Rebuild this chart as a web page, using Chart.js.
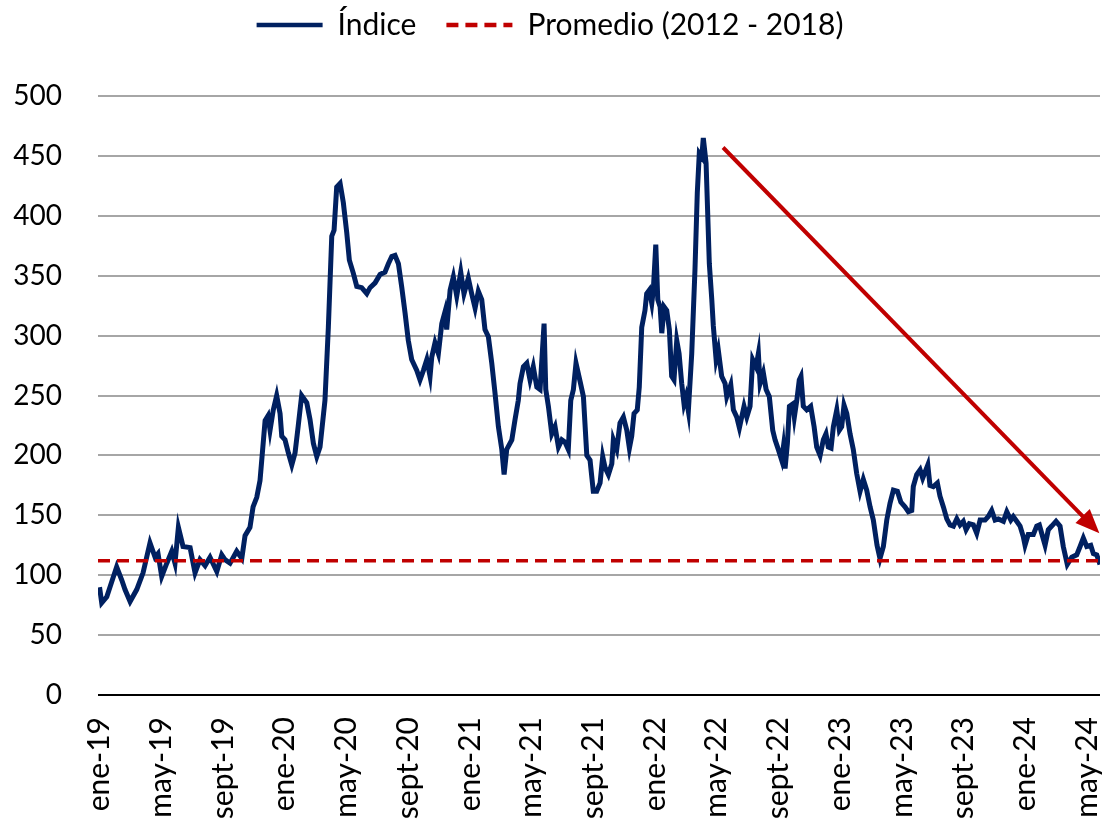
<!DOCTYPE html>
<html lang="es">
<head>
<meta charset="utf-8">
<title>Índice</title>
<script src="https://cdn.jsdelivr.net/npm/chart.js@4.4.1/dist/chart.umd.min.js"></script>
<style>
  body { margin: 0; background: #fff; }
  #wrap { width: 1114px; height: 825px; }
</style>
</head>
<body>
<div id="wrap"><canvas id="lineChart" width="1114" height="825"></canvas></div>
<script>
/* Data: month offset from ene-19 and index value */
const months = [0,0.14,0.47,1.11,1.44,1.65,1.98,2.41,2.82,3.27,3.60,3.79,4.03,4.36,4.68,4.89,5.11,5.41,5.87,6.19,6.51,6.84,7.16,7.60,7.92,8.13,8.46,8.89,9.22,9.43,9.75,9.95,10.19,10.40,10.73,10.92,11.05,11.26,11.48,11.70,11.81,12.02,12.24,12.46,12.67,12.88,13.10,13.43,13.64,13.86,14.08,14.29,14.61,14.83,15.05,15.20,15.37,15.59,15.80,16.02,16.19,16.45,16.67,16.99,17.32,17.53,17.86,18.18,18.50,18.72,18.94,19.15,19.37,19.59,19.80,20.01,20.23,20.56,20.77,20.99,21.21,21.42,21.53,21.74,21.96,22.18,22.39,22.50,22.72,22.93,23.15,23.41,23.62,23.90,24.12,24.34,24.55,24.77,24.98,25.20,25.42,25.63,25.85,26.07,26.22,26.39,26.72,26.93,27.14,27.25,27.47,27.69,27.90,28.11,28.34,28.55,28.81,28.92,29.09,29.31,29.52,29.74,29.96,30.17,30.38,30.54,30.71,30.88,31.14,31.36,31.58,31.79,32.00,32.22,32.44,32.61,32.76,32.98,33.20,33.30,33.52,33.73,33.95,34.17,34.34,34.49,34.64,34.85,34.98,35.14,35.35,35.46,35.63,35.79,35.89,36.05,36.18,36.33,36.44,36.59,36.76,36.93,37.08,37.23,37.41,37.56,37.73,37.88,38.01,38.16,38.38,38.59,38.74,38.87,39.03,39.13,39.31,39.52,39.68,39.78,39.96,40.10,40.32,40.54,40.65,40.91,41.08,41.30,41.47,41.62,41.77,41.95,42.16,42.33,42.55,42.70,42.81,43.02,43.20,43.41,43.63,43.78,43.99,44.21,44.32,44.43,44.58,44.71,44.93,45.03,45.19,45.35,45.46,45.61,45.83,46.09,46.31,46.48,46.70,46.91,47.08,47.23,47.41,47.56,47.78,47.95,48.10,48.25,48.43,48.64,48.85,49.07,49.29,49.50,49.72,49.94,50.15,50.39,50.58,50.80,51.02,51.23,51.45,51.71,51.93,52.20,52.42,52.64,52.74,52.96,53.18,53.35,53.50,53.68,53.82,54.04,54.30,54.47,54.69,54.91,55.12,55.34,55.56,55.77,55.98,56.16,56.37,56.63,56.85,57.07,57.39,57.60,57.82,58.04,58.25,58.58,58.80,59.06,59.22,59.44,59.66,59.87,59.98,60.19,60.52,60.74,60.91,61.06,61.28,61.49,61.71,61.99,62.25,62.46,62.72,63.01,63.33,63.55,63.76,63.98,64.24,64.41,64.63,64.84];

const indexValues = [90,77,82,107,96,88,78,88,102,127,115,118,99,110,120,110,140,124,123,102,113,108,115,103,117,113,110,120,114,133,140,157,165,179,229,233,221,238,250,235,216,213,202,192,202,225,250,244,230,210,199,207,246,307,383,388,424,427,411,386,363,352,341,340,335,340,344,351,353,360,366,367,360,340,319,296,280,271,263,271,280,266,282,294,285,310,320,305,338,349,333,353,335,348,335,323,337,330,305,299,277,252,224,205,184,205,213,230,246,260,274,277,263,274,257,255,310,255,241,218,224,207,213,211,205,246,255,277,262,249,200,196,170,170,177,199,190,184,193,213,205,227,232,221,206,216,235,238,257,307,321,335,338,327,338,376,330,324,302,324,321,305,266,263,296,285,260,243,249,237,285,355,419,452,449,465,444,360,330,308,280,288,266,260,249,259,238,232,223,232,241,232,241,280,274,285,260,269,255,249,221,213,205,196,207,189,210,241,243,232,246,263,266,241,238,241,224,207,200,213,218,207,206,224,238,221,224,242,235,218,205,185,170,180,171,157,146,125,114,124,146,160,171,170,161,157,153,154,174,184,188,181,186,192,175,174,177,166,157,147,142,141,147,142,145,138,143,142,135,146,146,149,154,146,147,145,153,146,149,145,141,132,125,134,134,141,142,135,125,138,141,145,141,124,109,115,117,124,131,124,125,118,117,109];

// Average 2012 - 2018
const promedio = [112];

// Tick positions (months from ene-19) and their labels
const tickMonths = [0, 4, 8, 12, 16, 20, 24, 28, 32, 36, 40, 44, 48, 52, 56, 60, 64];
const tickLabels = ["ene-19", "may-19", "sept-19", "ene-20", "may-20", "sept-20", "ene-21", "may-21", "sept-21", "ene-22", "may-22", "sept-22", "ene-23", "may-23", "sept-23", "ene-24", "may-24"];

// Trend arrow: [month, value]
const arrowStart = [40.41, 457];
const arrowEnd = [64.8, 135];

const xMin = -0.1;
const xMax = 64.84;

const navy = "#002060";
const red = "#c00000";

/*Arrow plugin*/
const arrowPlugin = {
  id: "trendArrow",
  afterDatasetsDraw(chart) {
    const { ctx, scales } = chart;
    const x1 = scales.x.getPixelForValue(arrowStart[0]);
    const y1 = scales.y.getPixelForValue(arrowStart[1]);
    const x2 = scales.x.getPixelForValue(arrowEnd[0]);
    const y2 = scales.y.getPixelForValue(arrowEnd[1]);
    const ang = Math.atan2(y2 - y1, x2 - x1);
    const headLen = 24;
    const headHalf = 10;
    ctx.save();
    ctx.strokeStyle = red;
    ctx.fillStyle = red;
    ctx.lineWidth = 4;
    ctx.beginPath();
    ctx.moveTo(x1, y1);
    ctx.lineTo(x2 - Math.cos(ang) * headLen * 0.8, y2 - Math.sin(ang) * headLen * 0.8);
    ctx.stroke();
    ctx.beginPath();
    ctx.moveTo(x2, y2);
    ctx.lineTo(x2 - Math.cos(ang) * headLen - Math.sin(ang) * headHalf, y2 - Math.sin(ang) * headLen + Math.cos(ang) * headHalf);
    ctx.lineTo(x2 - Math.cos(ang) * headLen + Math.sin(ang) * headHalf, y2 - Math.sin(ang) * headLen - Math.cos(ang) * headHalf);
    ctx.closePath();
    ctx.fill();
    ctx.restore();
  },
};

/*Give the legend extra room so the plot starts lower*/
const legendSpace = {
  id: "legendSpace",
  beforeInit(chart) {
    const fit = chart.legend.fit;
    chart.legend.fit = function () {
      fit.bind(chart.legend)();
      this.height = 116;
    };
  },
};

const ctx = document.getElementById("lineChart").getContext("2d");

new Chart(ctx, {
  type: "line",
  data: {
    datasets: [
      {
        label: "Índice",
        data: months.map((m, i) => ({ x: m, y: indexValues[i] })),
        borderColor: navy,
        backgroundColor: navy,
        borderWidth: 5,
        pointRadius: 0,
        tension: 0,
        order: 2,
      },
      {
        label: "Promedio (2012 - 2018)",
        data: [
          { x: xMin, y: promedio[0] },
          { x: xMax, y: promedio[0] },
        ],
        borderColor: red,
        backgroundColor: red,
        borderWidth: 3.5,
        borderDash: [12, 7],
        pointRadius: 0,
        order: 1,
      },
    ],
  },
  options: {
    responsive: false,
    animation: false,
    devicePixelRatio: 1,
    layout: { padding: { top: -20, left: 0, right: 14, bottom: 0 } },
    plugins: {
      tooltip: { enabled: false },
      legend: {
        position: "top",
        labels: {
          font: { family: "Lato", size: 30 },
          color: "#000",
          usePointStyle: true,
          pointStyle: "line",
          pointStyleWidth: 66,
          padding: 30,
          sort: (a, b) => a.datasetIndex - b.datasetIndex,
          generateLabels(chart) {
            const items = Chart.defaults.plugins.legend.labels.generateLabels(chart);
            items.forEach((it) => {
              const ds = chart.data.datasets[it.datasetIndex];
              it.lineWidth = 4.5;
              it.lineDash = ds.borderDash || [];
              it.strokeStyle = ds.borderColor;
            });
            return items;
          },
        },
      },
    },
    scales: {
      x: {
        type: "linear",
        min: xMin,
        max: xMax,
        grid: { display: false, drawTicks: false },
        border: { display: false },
        afterBuildTicks(scale) {
          scale.ticks = tickMonths.map((v) => ({ value: v }));
        },
        afterFit(scale) {
          scale.height = 130;
          scale.paddingLeft = 0;
          scale.paddingRight = 0;
        },
        ticks: {
          autoSkip: false,
          maxRotation: 90,
          minRotation: 90,
          padding: 22,
          color: "#000",
          font: { family: "Lato", size: 30 },
          callback: (v) => tickLabels[tickMonths.indexOf(v)],
        },
      },
      y: {
        min: 0,
        max: 500,
        grid: {
          drawTicks: false,
          lineWidth: 2,
          color: (c) => (c.tick && c.tick.value === 0 ? "#000" : "#a6a6a6"),
        },
        border: { display: false },
        afterFit(scale) {
          scale.width = 98;
        },
        ticks: {
          stepSize: 50,
          padding: 36,
          color: "#000",
          font: { family: "Lato", size: 28 },
        },
      },
    },
  },
  plugins: [legendSpace, arrowPlugin],
});
</script>
</body>
</html>
